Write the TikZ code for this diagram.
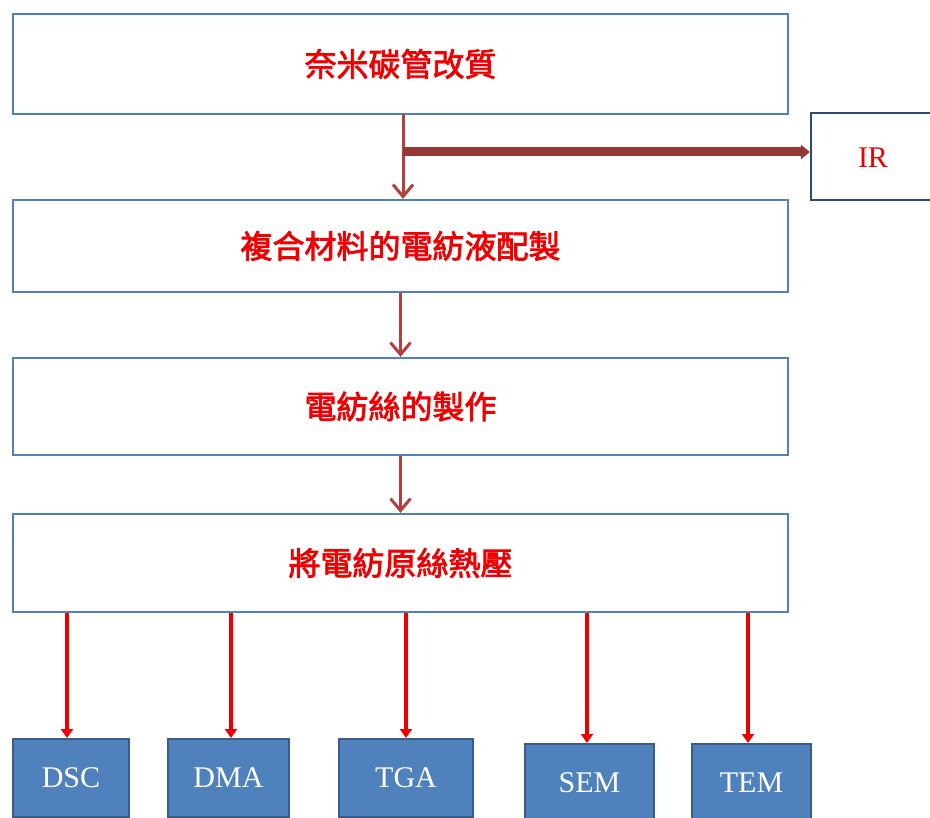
\documentclass[tikz,border=0pt]{standalone}
\usepackage{fontspec}
\setmainfont{Liberation Serif}
\newfontfamily\cjk[FakeBold=2.5]{Noto Sans CJK TC}
\usetikzlibrary{arrows.meta}
\definecolor{boxline}{HTML}{4F81BD}
\definecolor{boxdark}{HTML}{385D8A}
\definecolor{irline}{HTML}{2C4A72}
\definecolor{arrowred}{HTML}{B5403B}
\definecolor{harrow}{HTML}{953735}
\definecolor{brightred}{HTML}{EE0000}
\definecolor{txtred}{HTML}{F00000}
\tikzset{
  stepbox/.style={draw=boxline, line width=2.2pt, fill=white, minimum width=775pt, inner sep=0pt,
    font=\cjk\fontsize{32}{36}\selectfont, text=txtred},
  testbox/.style={draw=boxdark, line width=2pt, fill=boxline, minimum height=78pt, inner sep=0pt,
    font=\fontsize{30}{34}\selectfont, text=white},
  flowarrow/.style={draw=arrowred, line width=3pt, -{Straight Barb[length=12pt,width=20pt,line width=3pt]}},
  wideflow/.style={draw=harrow, line width=9pt, -{Triangle[length=9pt,width=14pt]}},
  testarrow/.style={draw=brightred, line width=3.5pt, -{Triangle[length=9pt,width=12pt]}},
}
\begin{document}
\begin{tikzpicture}[x=1pt,y=-1pt]
\useasboundingbox (0,0) rectangle (930,818);
\fill[white] (0,0) rectangle (930,818);
\begin{scope}
\clip (0,0) rectangle (930,818);
\node[stepbox, minimum height=100pt] (b1) at (400.5,64) {奈米碳管改質};
\node[stepbox, minimum height=92pt] (b2) at (400.5,246) {複合材料的電紡液配製};
\node[stepbox, minimum height=97pt] (b3) at (400.5,406.5) {電紡絲的製作};
\node[stepbox, minimum height=98pt] (b4) at (400.5,563) {將電紡原絲熱壓};
\node[draw=irline, line width=2.2pt, fill=white, minimum width=128pt, minimum height=87pt, inner sep=0pt] (ir) at (875,156.5) {};
\node[font=\fontsize{30}{34}\selectfont, text=txtred, inner sep=0pt] (irt) at (873,158) {IR};
\node[testbox, minimum width=116pt] (dsc) at (71,778) {DSC};
\node[testbox, minimum width=121pt] (dma) at (228.5,778) {DMA};
\node[testbox, minimum width=134pt] (tga) at (406,778) {TGA};
\node[testbox, minimum width=129pt] (sem) at (589.5,783) {SEM};
\node[testbox, minimum width=119pt] (tem) at (751.5,783) {TEM};
\end{scope}
\coordinate (top) at (403,114);
\coordinate (j) at (403,152);
\draw[flowarrow] (top) -- (top |- b2.north);
\draw[wideflow] (j) -- (ir.west |- j);
\draw[flowarrow] (b2.south) -- (b3.north);
\draw[flowarrow] (b3.south) -- (b4.north);
\draw[testarrow] ([xshift=-4pt]dsc.north |- b4.south) -- ([xshift=-4pt]dsc.north);
\draw[testarrow] ([xshift=2.5pt]dma.north |- b4.south) -- ([xshift=2.5pt]dma.north);
\draw[testarrow] (tga.north |- b4.south) -- (tga.north);
\draw[testarrow] ([xshift=-2.5pt]sem.north |- b4.south) -- ([xshift=-2.5pt]sem.north);
\draw[testarrow] ([xshift=-3.5pt]tem.north |- b4.south) -- ([xshift=-3.5pt]tem.north);
\end{tikzpicture}
\end{document}
